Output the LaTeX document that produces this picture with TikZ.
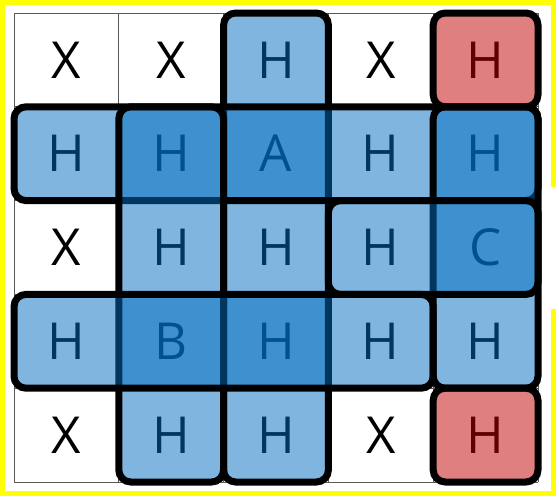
\documentclass[tikz,border=0pt]{standalone}
\usepackage{fontspec}
\setmainfont{Open Sans}
\definecolor{boxblue}{RGB}{0,108,190}
\definecolor{boxred}{RGB}{192,0,0}
\definecolor{frameyellow}{RGB}{255,255,0}
\tikzset{
  gridline/.style={draw=black!65, line width=1pt},
  celltext/.style={font=\fontsize{51}{51}\selectfont, text=black, inner sep=0pt, anchor=center},
  bluebox/.style={fill=boxblue, fill opacity=0.5, draw=black, draw opacity=1, line width=7pt, rounded corners=12pt},
  redbox/.style={fill=boxred, fill opacity=0.5, draw=black, draw opacity=1, line width=7pt, rounded corners=12pt},
  yframe/.style={draw=frameyellow, line width=5pt},
}
\begin{document}
\begin{tikzpicture}[x=1pt,y=-1pt]
\useasboundingbox (0,0) rectangle (559,498);
% grid corner coordinates
\foreach \i in {0,...,5} {
  \foreach \j in {0,...,5} {
    \coordinate (g\i\j) at ({14+104.8*\i},{13+93.8*\j});
  }
}
% yellow frame with gap on the right
\coordinate (y1) at (553,187);
\coordinate (y2) at (553,2.5);
\coordinate (y3) at (2.5,2.5);
\coordinate (y4) at (2.5,493);
\coordinate (y5) at (553,493);
\coordinate (y6) at (553,309);
\draw[yframe] (y1) -- (y2) -- (y3) -- (y4) -- (y5) -- (y6);
% grid
\foreach \i in {0,...,5} { \draw[gridline] (g\i0) -- (g\i5); }
\foreach \j in {0,...,5} { \draw[gridline] (g0\j) -- (g5\j); }
% cell texts
\foreach \t [count=\k from 0] in {X,X,H,X,H, H,H,A,H,H, X,H,H,H,C, H,B,H,H,H, X,H,H,X,H} {
  \pgfmathtruncatemacro{\ci}{mod(\k,5)}
  \pgfmathtruncatemacro{\cj}{div(\k,5)}
  \node[celltext] (c\ci\cj) at ({14+104.8*(\ci+0.5)},{13+93.8*(\cj+0.5)}) {\t};
}
% translucent boxes (order matters)
\draw[bluebox] (g20) rectangle (g35); % column 2
\draw[bluebox] (g01) rectangle (g52); % row 1
\draw[bluebox] (g11) rectangle (g25); % column 1
\draw[bluebox] (g41) rectangle (g54); % column 4
\draw[bluebox] (g32) rectangle (g53); % row 2
\draw[bluebox] (g03) rectangle (g44); % row 3
\draw[redbox] (g40) rectangle (g51);
\draw[redbox] (g44) rectangle (g55);
\end{tikzpicture}
\end{document}
